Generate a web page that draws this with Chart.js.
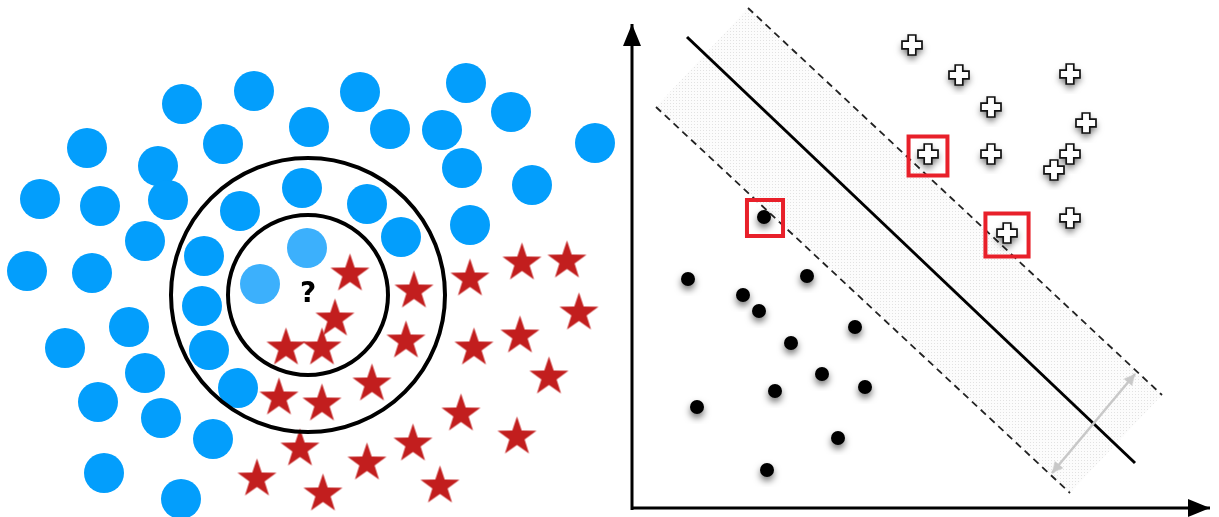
<!DOCTYPE html>
<html>
<head>
<meta charset="utf-8">
<script src="https://cdn.jsdelivr.net/npm/chart.js@4.4.0/dist/chart.umd.min.js"></script>
<style>
html, body { margin: 0; padding: 0; background: #fff; }
canvas { display: block; }
</style>
</head>
<body>
<canvas id="myChart" width="1219" height="517"></canvas>
<script>
// left panel: k nearest neighbours
const blue_points = [
        [182,104],[254,91],[360,92],[466,83],[511,112],[595,143],
        [87,148],[223,144],[309,127],[390,129],[442,130],[462,168],[532,185],
        [158,166],[40,199],[100,206],[168,200],[240,211],[302,188],[367,204],[401,237],[470,225],
        [145,241],[204,256],[27,271],[92,273],
        [202,306],[129,327],[65,348],[209,350],[145,373],[98,402],[238,388],[161,418],[213,439],[104,473],[181,499]
];
const neighbour_points = [[307,248],[260,284]];
const star_points = [
        [350,273],[414,290],[470,278],[522,262],[567,260],[579,312],
        [335,318],[286,347],[322,347],[406,340],[474,347],[520,335],
        [549,376],[372,383],[279,397],[322,403],[461,413],[517,436],
        [413,443],[300,448],[367,462],[440,485],[257,478],[323,493]
];
const query_point = [308,295];
const query_label = "?";

// right panel: support vector machine
const minus_points = [
        [688,279],[743,295],[759,311],[807,276],[855,327],[791,343],
        [822,374],[865,387],[775,391],[697,407],[838,438],[767,470],[764,217]
];
const plus_points = [
        [912,45],[959,75],[991,107],[1070,74],[1086,123],[991,154],
        [1070,154],[1054,170],[1070,218],[928,154],[1007,233]
];
const support_vectors = [[765,218],[928,156],[1007,235]];
const hyperplane = [[687,37],[1135,463]];
const margin_upper = [[748,8],[1162,395]];
const margin_lower = [[656,107],[1070,493]];
const margin_band = [[656,107],[748,8],[1162,395],[1070,493],[656,107]];
const margin_arrow = [[1052,473],[1135,374]];
const y_axis = [[632,510],[632,24]];
const x_axis = [[631,508],[1210,508]];

function xy(pts) {
        return pts.map(function(p) { return {x: p[0], y: p[1]}; });
}

function make_canvas(size) {
        const c = document.createElement('canvas');
        c.width = size;
        c.height = size;
        return c;
}

function star_icon(R, r, colour) {
        const c = make_canvas(2 * R + 4);
        const ctx = c.getContext('2d');
        const m = c.width / 2;
        ctx.beginPath();
        for (let i = 0; i < 10; i++) {
                const a = -Math.PI / 2 + i * Math.PI / 5;
                const rr = i % 2 ? r : R;
                ctx.lineTo(m + Math.cos(a) * rr, m + 1 + Math.sin(a) * rr);
        }
        ctx.closePath();
        ctx.fillStyle = colour;
        ctx.fill();
        return c;
}

function dot_icon() {
        const c = make_canvas(34);
        const ctx = c.getContext('2d');
        ctx.shadowColor = 'rgba(0,0,0,0.55)';
        ctx.shadowBlur = 7;
        ctx.shadowOffsetY = 4;
        ctx.beginPath();
        ctx.arc(17, 17, 7, 0, Math.PI * 2);
        ctx.fillStyle = '#000';
        ctx.fill();
        return c;
}

function plus_icon() {
        const c = make_canvas(40);
        const ctx = c.getContext('2d');
        const m = 20, a = 10, t = 3.8;
        ctx.beginPath();
        ctx.moveTo(m - t, m - a);
        ctx.lineTo(m + t, m - a);
        ctx.lineTo(m + t, m - t);
        ctx.lineTo(m + a, m - t);
        ctx.lineTo(m + a, m + t);
        ctx.lineTo(m + t, m + t);
        ctx.lineTo(m + t, m + a);
        ctx.lineTo(m - t, m + a);
        ctx.lineTo(m - t, m + t);
        ctx.lineTo(m - a, m + t);
        ctx.lineTo(m - a, m - t);
        ctx.lineTo(m - t, m - t);
        ctx.closePath();
        ctx.shadowColor = 'rgba(0,0,0,0.6)';
        ctx.shadowBlur = 7;
        ctx.shadowOffsetY = 4;
        ctx.fillStyle = '#fff';
        ctx.fill();
        ctx.shadowColor = 'transparent';
        ctx.lineWidth = 1.7;
        ctx.strokeStyle = '#111';
        ctx.stroke();
        return c;
}

// arrow head with its tip at the centre of the canvas, pointing up
function arrow_icon(h, w, colour) {
        const c = make_canvas(2 * h + 4);
        const ctx = c.getContext('2d');
        const m = c.width / 2;
        ctx.beginPath();
        ctx.moveTo(m, m);
        ctx.lineTo(m + w, m + h);
        ctx.lineTo(m - w, m + h);
        ctx.closePath();
        ctx.fillStyle = colour;
        ctx.fill();
        return c;
}

function dotted_pattern() {
        const c = make_canvas(3);
        const ctx = c.getContext('2d');
        ctx.fillStyle = '#fcfcfc';
        ctx.fillRect(0, 0, 3, 3);
        ctx.fillStyle = '#e2e2e2';
        ctx.fillRect(1, 1, 1, 1);
        return document.createElement('canvas').getContext('2d').createPattern(c, 'repeat');
}

const axis_head = arrow_icon(22, 9, '#000');
const small_head = arrow_icon(11, 5.5, '#c8c8c8');

const question_plugin = {
        id: 'question',
        afterDatasetsDraw(chart) {
                const ctx = chart.ctx;
                ctx.save();
                ctx.font = 'bold 28px "DejaVu Sans"';
                ctx.fillStyle = '#000';
                ctx.textAlign = 'center';
                ctx.textBaseline = 'middle';
                ctx.fillText(query_label, chart.scales.x.getPixelForValue(query_point[0]),
                        chart.scales.y.getPixelForValue(query_point[1]));
                ctx.restore();
        }
};

function line_set(pts, colour, width, dash) {
        return {
                data: xy(pts),
                showLine: true,
                borderColor: colour,
                borderWidth: width,
                borderDash: dash || [],
                pointRadius: 0,
                fill: false
        };
}

const datasets = [
        // on top first
        {
                data: xy(support_vectors),
                pointStyle: 'rect',
                pointRadius: [25.5, 27.5, 30.5],
                borderColor: '#e8202a',
                borderWidth: 4,
                backgroundColor: 'transparent'
        },
        {data: xy(plus_points), pointStyle: plus_icon(), pointRadius: 10},
        {data: xy(minus_points), pointStyle: dot_icon(), pointRadius: 10},
        {
                data: xy([y_axis[1], x_axis[1], margin_arrow[0], margin_arrow[1]]),
                pointStyle: [axis_head, axis_head, small_head, small_head],
                pointRotation: [0, 90, 220, 40],
                pointRadius: 10
        },
        line_set(margin_arrow, '#c8c8c8', 2.5),
        line_set(y_axis, '#000', 3),
        line_set(x_axis, '#000', 3),
        line_set(hyperplane, '#000', 3),
        line_set(margin_upper, '#222', 1.8, [7, 5]),
        line_set(margin_lower, '#222', 1.8, [7, 5]),
        {
                data: xy(margin_band),
                showLine: true,
                borderWidth: 0,
                borderColor: 'transparent',
                backgroundColor: dotted_pattern(),
                pointRadius: 0,
                fill: 'shape'
        },
        {
                data: xy([query_point, query_point]),
                pointStyle: 'circle',
                pointRadius: [137, 80],
                borderColor: '#000',
                borderWidth: 4,
                backgroundColor: 'transparent'
        },
        {data: xy(star_points), pointStyle: star_icon(20.5, 8, '#c21e1e'), pointRadius: 20},
        {data: xy(neighbour_points), pointStyle: 'circle', pointRadius: 20, borderWidth: 0, backgroundColor: '#3cb0fc'},
        {data: xy(blue_points), pointStyle: 'circle', pointRadius: 20, borderWidth: 0, backgroundColor: '#039efc'}
];

for (const ds of datasets) {
        ds.clip = false;
}

const myChart = new Chart(document.getElementById('myChart'), {
        type: 'scatter',
        data: {datasets: datasets},
        options: {
                responsive: false,
                animation: false,
                events: [],
                layout: {padding: 0, autoPadding: false},
                plugins: {legend: {display: false}, tooltip: {enabled: false}},
                scales: {
                        x: {type: 'linear', min: 0, max: 1219, display: false},
                        y: {type: 'linear', min: 0, max: 517, reverse: true, display: false}
                }
        },
        plugins: [question_plugin]
});
</script>
</body>
</html>
